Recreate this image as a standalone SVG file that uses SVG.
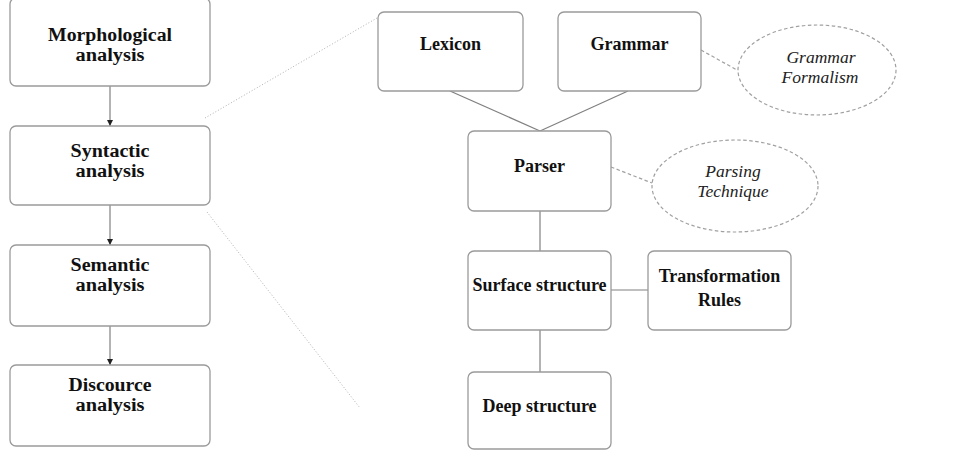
<svg xmlns="http://www.w3.org/2000/svg" width="954" height="451" viewBox="0 0 954 451">
<defs>
<style>
.box{fill:#fff;stroke:#9a9a9a;stroke-width:1.3}
.ell{fill:#fff;stroke:#a0a0a0;stroke-width:1.2;stroke-dasharray:3.5 2.5}
.lb{font-family:"Liberation Serif","Times New Roman",serif;font-weight:bold;fill:#111;text-anchor:middle}
.l20{font-size:18px}
.l18{font-size:18px}
.it{font-family:"Liberation Serif","Times New Roman",serif;font-style:italic;font-size:17.5px;fill:#222;text-anchor:middle}
.ln{stroke:#808080;stroke-width:1.2;fill:none}
.dash{stroke:#a0a0a0;stroke-width:1.2;stroke-dasharray:3.5 2.5;fill:none}
.dot{stroke:#b0b0b0;stroke-width:1;stroke-dasharray:1 2;fill:none}
</style>
<marker id="ah" viewBox="0 0 6 8" refX="6" refY="4" markerWidth="6" markerHeight="8" markerUnits="userSpaceOnUse" orient="auto">
<path d="M0,1 L6,4 L0,7 z" fill="#222"/>
</marker>
</defs>
<rect width="954" height="451" fill="#fff"/>
<g id="connectors">
<line class="ln" x1="110" y1="86" x2="110" y2="126" marker-end="url(#ah)"/>
<line class="ln" x1="110" y1="205" x2="110" y2="245" marker-end="url(#ah)"/>
<line class="ln" x1="110" y1="326" x2="110" y2="365" marker-end="url(#ah)"/>
<line class="dot" x1="205" y1="118" x2="377" y2="18"/>
<line class="dot" x1="207" y1="212" x2="360" y2="408"/>
<line class="ln" x1="450" y1="91" x2="540" y2="131"/>
<line class="ln" x1="628" y1="91" x2="540" y2="131"/>
<line class="ln" x1="540" y1="211" x2="540" y2="251"/>
<line class="ln" x1="611" y1="290" x2="648" y2="290"/>
<line class="ln" x1="540" y1="330" x2="540" y2="372"/>
<line class="dash" x1="701" y1="50" x2="737" y2="70"/>
<line class="dash" x1="611" y1="167" x2="652" y2="183"/>
</g>
<g id="morphological">
<rect class="box" x="10" y="-2" width="200" height="88" rx="6"/>
<text class="lb l20" x="110" y="41" textLength="124" lengthAdjust="spacingAndGlyphs">Morphological</text>
<text class="lb l20" x="110" y="61" textLength="69" lengthAdjust="spacingAndGlyphs">analysis</text>
</g>
<g id="syntactic">
<rect class="box" x="10" y="126" width="200" height="79" rx="6"/>
<text class="lb l20" x="110" y="157" textLength="79" lengthAdjust="spacingAndGlyphs">Syntactic</text>
<text class="lb l20" x="110" y="177" textLength="69" lengthAdjust="spacingAndGlyphs">analysis</text>
</g>
<g id="semantic">
<rect class="box" x="10" y="245" width="200" height="81" rx="6"/>
<text class="lb l20" x="110" y="271" textLength="79" lengthAdjust="spacingAndGlyphs">Semantic</text>
<text class="lb l20" x="110" y="291" textLength="69" lengthAdjust="spacingAndGlyphs">analysis</text>
</g>
<g id="discourse">
<rect class="box" x="10" y="365" width="200" height="81" rx="6"/>
<text class="lb l20" x="110" y="391" textLength="83" lengthAdjust="spacingAndGlyphs">Discource</text>
<text class="lb l20" x="110" y="411" textLength="69" lengthAdjust="spacingAndGlyphs">analysis</text>
</g>
<g id="lexicon">
<rect class="box" x="378" y="12" width="145" height="79" rx="6"/>
<text class="lb l18" x="450.5" y="50">Lexicon</text>
</g>
<g id="grammar">
<rect class="box" x="558" y="12" width="143" height="79" rx="6"/>
<text class="lb l18" x="629.5" y="50">Grammar</text>
</g>
<g id="grammar-formalism">
<ellipse class="ell" cx="817" cy="70" rx="79" ry="45"/>
<text class="it" x="821" y="63">Grammar</text>
<text class="it" x="820" y="83">Formalism</text>
</g>
<g id="parser">
<rect class="box" x="468" y="131" width="143" height="80" rx="6"/>
<text class="lb l18" x="539.5" y="172">Parser</text>
</g>
<g id="parsing-technique">
<ellipse class="ell" cx="735" cy="186" rx="83" ry="46"/>
<text class="it" x="733" y="177">Parsing</text>
<text class="it" x="733" y="197">Technique</text>
</g>
<g id="surface-structure">
<rect class="box" x="468" y="251" width="143" height="79" rx="6"/>
<text class="lb l18" x="539.5" y="291">Surface structure</text>
</g>
<g id="transformation-rules">
<rect class="box" x="648" y="251" width="143" height="79" rx="6"/>
<text class="lb l18" x="719.5" y="282">Transformation</text>
<text class="lb l18" x="719.5" y="306">Rules</text>
</g>
<g id="deep-structure">
<rect class="box" x="468" y="372" width="143" height="77" rx="6"/>
<text class="lb l18" x="539.5" y="412">Deep structure</text>
</g>
</svg>
